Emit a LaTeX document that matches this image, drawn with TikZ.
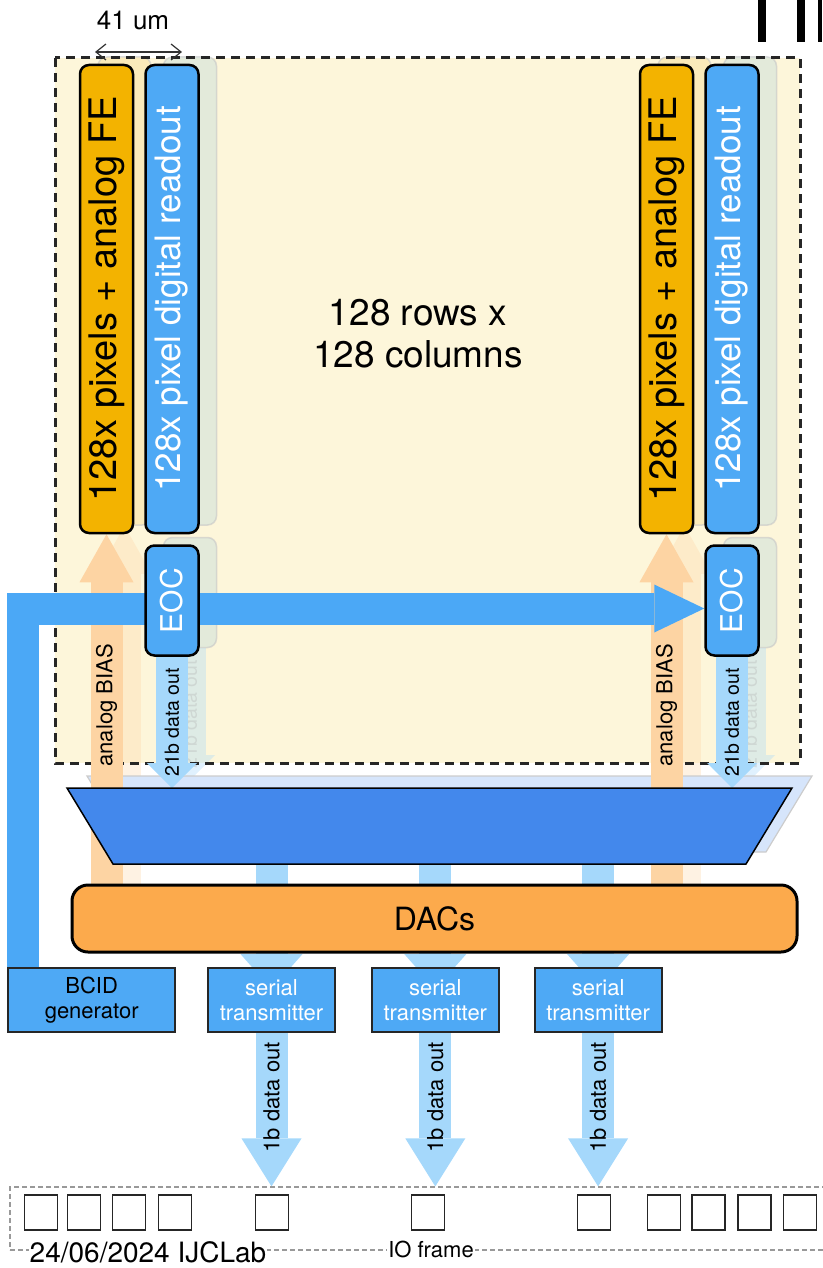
\documentclass[tikz,border=0pt]{standalone}
\usepackage{fontspec}
\setmainfont{TeX Gyre Heros}
\usepackage{graphicx}
\usetikzlibrary{arrows.meta,positioning,calc}
\definecolor{bgyellow}{HTML}{FDF6DA}
\definecolor{feorange}{HTML}{F3B300}
\definecolor{roblue}{HTML}{4EA9F5}
\definecolor{busblue}{HTML}{4BA8F6}
\definecolor{biaspeach}{HTML}{FDD4A3}
\definecolor{datablue}{HTML}{A5D8FB}
\definecolor{muxblue}{HTML}{4388EC}
\definecolor{dacorange}{HTML}{FCAA4C}
\definecolor{ghostgreen}{HTML}{D3E3DA}
\definecolor{ghostorange}{HTML}{F9E2A6}
\newcommand{\pxfont}[1]{\fontsize{#1}{#1}\selectfont}
\pgfdeclarelayer{bg}
\pgfdeclarelayer{ghost}
\pgfdeclarelayer{back}
\pgfdeclarelayer{mid}
\pgfsetlayers{bg,ghost,back,mid,main}
\tikzset{
  col style/.style={rectangle, rounded corners=9pt, draw=black, line width=2.5pt,
    minimum width=53pt, minimum height=468pt, inner sep=0pt},
  fe style/.style={col style, fill=feorange, font=\pxfont{38}},
  ro style/.style={col style, fill=roblue, text=white, font=\pxfont{35}},
  eoc style/.style={col style, fill=roblue, text=white, minimum height=110pt, font=\pxfont{30}},
  ghost style/.style={rectangle, rounded corners=9pt, draw=gray!45, line width=1.5pt,
    minimum width=53pt, minimum height=468pt, opacity=0.6},
  frame style/.style={draw=black!85, line width=3pt, dash pattern=on 9pt off 6pt},
  mux style/.style={fill=muxblue, draw=black, line width=1.5pt},
  dac style/.style={rectangle, rounded corners=16pt, draw=black, line width=3pt, fill=dacorange,
    minimum width=725pt, minimum height=67pt, font=\pxfont{32}},
  tx style/.style={rectangle, draw=black!85, line width=1.8pt, fill=roblue, text=white,
    minimum width=127pt, minimum height=64pt, inner sep=0pt, align=center,
    font=\fontsize{22}{25}\selectfont},
  io style/.style={rectangle, draw=gray!80, line width=1.2pt, dash pattern=on 5pt off 3pt,
    minimum width=825pt, minimum height=63pt},
  pad style/.style={rectangle, draw=black!85, line width=1.8pt, minimum width=33pt,
    minimum height=35pt, inner sep=0pt},
  dim style/.style={{Straight Barb[length=10pt,width=16pt]}-{Straight Barb[length=10pt,width=16pt]},
    draw=black!80, line width=1.2pt},
  bus style/.style={draw=busblue, line width=32pt, -{Triangle[length=50pt, width=48pt, line width=0pt]}},
  bias style/.style={draw=biaspeach, line width=32pt, -{Triangle[length=48pt, width=54pt, line width=0pt]}},
  data style/.style={draw=datablue, line width=32pt, -{Triangle[length=25pt, width=50pt, line width=0pt]}},
  link style/.style={draw=datablue, line width=32pt, -{Triangle[length=35pt, width=62pt, line width=0pt]}},
  out style/.style={draw=datablue, line width=32pt, -{Triangle[length=48pt, width=60pt, line width=0pt]}},
  lbl style/.style={rotate=90, text=black, inner sep=0pt}
}
\begin{document}
\begin{tikzpicture}[x=1pt, y=-1pt]
\useasboundingbox (0,0) rectangle (822,1268);

% pixel columns
\node[fe style] (feL) at (106.5,299) {\rotatebox{90}{128x pixels + analog FE}};
\node[ro style, right=10pt of feL] (roL) {\rotatebox{90}{128x pixel digital readout}};
\node[fe style] (feR) at (666.5,299) {\rotatebox{90}{128x pixels + analog FE}};
\node[ro style, right=10pt of feR] (roR) {\rotatebox{90}{128x pixel digital readout}};
\node[eoc style, below=10pt of roL] (eocL) {\rotatebox{90}{EOC}};
\node[eoc style, below=10pt of roR] (eocR) {\rotatebox{90}{EOC}};
\node[font=\fontsize{37}{42}\selectfont, align=center] (matlbl) at (418,334) {128 rows x\\128 columns};

% pitch
\coordinate (dimL) at (95,52);
\coordinate (dimR) at (182,52);
\draw[dim style] (dimL) -- (dimR);
\node[font=\pxfont{26}] (dimlbl) at (133,20) {41 um};

\fill (758,0) rectangle (766,42);
\fill (797,0) rectangle (805,42);
\fill (818,0) rectangle (822,42);

% mux
\coordinate (muxTL) at (67,788);
\coordinate (muxTR) at (792,788);
\coordinate (muxBR) at (746,864);
\coordinate (muxBL) at (113,864);
\draw[mux style] (muxTL) -- (muxTR) -- (muxBR) -- (muxBL) -- cycle;

\node[dac style] (dacs) at (434.5,918.5) {DACs};
\node[tx style] (tx1) at (271.5,1000) {serial\\transmitter};
\node[tx style, right=35pt of tx1] (tx2) {serial\\transmitter};
\node[tx style, right=34pt of tx2] (tx3) {serial\\transmitter};
\node[tx style, text=black, minimum width=167pt, left=31pt of tx1] (bcid) {BCID\\generator};

% IO frame
\node[io style] (ioframe) at (422.5,1218.5) {};
\foreach \xx [count=\i] in {41,84,129,175,272,428,594,664,708.5,754.5,800}
  \node[pad style] (pad\i) at (\xx,1212.5) {};
\node[font=\pxfont{22}, fill=white, inner sep=1pt] (iolbl) at (431,1249) {IO frame};
\node[font=\pxfont{28}, fill=white, inner sep=1pt] (datelbl) at (148,1252) {24/06/2024 IJCLab};

\begin{pgfonlayer}{bg}
\fill[bgyellow] (55,58) rectangle (800,763);
\end{pgfonlayer}

\begin{pgfonlayer}{ghost}
\node[ghost style, fill=ghostorange] (feLg) at ($(feL)+(18,-8)$) {};
\node[ghost style, fill=ghostgreen] (roLg) at ($(roL)+(18,-8)$) {};
\node[ghost style, fill=ghostorange] (feRg) at ($(feR)+(18,-8)$) {};
\node[ghost style, fill=ghostgreen] (roRg) at ($(roR)+(18,-8)$) {};
\node[ghost style, fill=ghostgreen, minimum height=110pt] (eocLg) at ($(eocL)+(18,-8)$) {};
\node[ghost style, fill=ghostgreen, minimum height=110pt] (eocRg) at ($(eocR)+(18,-8)$) {};
\draw[bias style, opacity=0.3] ($(feL.south |- dacs.north)+(18,0)$) -- (feLg.south);
\draw[bias style, opacity=0.3] ($(feR.south |- dacs.north)+(18,0)$) -- (feRg.south);
\draw[data style, opacity=0.35] (eocLg.south) -- ($(eocL.south |- muxTL)+(18,-8)$)
  node[midway, lbl style, font=\pxfont{19.5}, text=gray!60] {21b data out};
\draw[data style, opacity=0.35] (eocRg.south) -- ($(eocR.south |- muxTL)+(18,-8)$)
  node[midway, lbl style, font=\pxfont{19.5}, text=gray!60] {21b data out};
\draw[fill=muxblue!22, draw=gray!40, line width=1.2pt] ($(muxTL)+(20,-12)$) -- ($(muxTR)+(20,-12)$)
  -- ($(muxBR)+(20,-12)$) -- ($(muxBL)+(20,-12)$) -- cycle;
\draw[frame style] (55,58) rectangle (800,763);
\end{pgfonlayer}

\begin{pgfonlayer}{back}
\draw[bias style] (feL.south |- dacs.north) -- (feL.south)
  node[pos=0.51, lbl style, font=\pxfont{22}] {analog BIAS};
\draw[bias style] (feR.south |- dacs.north) -- (feR.south)
  node[pos=0.51, lbl style, font=\pxfont{22}] {analog BIAS};
\draw[data style] (eocL.south) -- (eocL.south |- muxTL)
  node[midway, lbl style, font=\pxfont{19.5}] {21b data out};
\draw[data style] (eocR.south) -- (eocR.south |- muxTL)
  node[midway, lbl style, font=\pxfont{19.5}] {21b data out};
\foreach \t in {tx1,tx2,tx3} {
  \draw[link style] (\t.north |- muxBL) -- ($(\t.north)+(0,22)$);
  \draw[out style] (\t.south) -- (\t.south |- ioframe.north)
    node[pos=0.42, lbl style, font=\pxfont{22}] {1b data out};
}
\end{pgfonlayer}

\begin{pgfonlayer}{mid}
\draw[bus style] ($(bcid.north west)+(16,0)$) |- ($(eocR.west)+(0,8)$);
\end{pgfonlayer}
\end{tikzpicture}
\end{document}
